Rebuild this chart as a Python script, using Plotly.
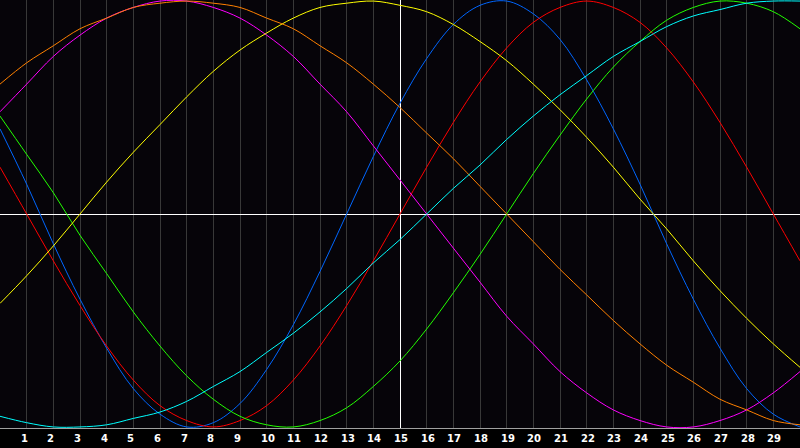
import plotly.graph_objects as go

# days shown on the chart (0 = left edge, 30 = right edge), today = 15
days = list(range(0, 31))
tick_days = list(range(1, 30))
tick_labels = [str(d) for d in tick_days]
today = 15

# cycle values in percent, read at each day gridline
physical = [40, 14, -14, -40, -63, -82, -94, -100, -98, -89, -73, -52, -27, 0, 27, 52,
            73, 89, 98, 100, 94, 82, 63, 40, 14, -14, -40, -63, -82, -94, -100]
emotional = [22, 0, -22, -43, -62, -78, -90, -97, -100, -97, -90, -78, -62, -43, -22, 0,
             22, 43, 62, 78, 90, 97, 100, 97, 90, 78, 62, 43, 22, 0, -22]
intellectual = [46, 28, 10, -10, -28, -46, -62, -76, -87, -95, -99, -100, -97, -91, -81, -69,
                -54, -37, -19, 0, 19, 37, 54, 69, 81, 91, 97, 100, 99, 95, 87]
intuitive = [48, 61, 74, 84, 92, 97, 100, 100, 97, 92, 84, 74, 61, 48, 32, 16,
             0, -16, -32, -48, -61, -74, -84, -92, -97, -100, -100, -97, -92, -84, -74]
aesthetic = [-42, -29, -15, 0, 15, 29, 42, 55, 67, 77, 85, 92, 97, 99, 100, 98,
             95, 89, 81, 72, 61, 49, 36, 22, 7, -7, -22, -36, -49, -61, -72]
awareness = [61, 71, 79, 87, 92, 97, 99, 100, 99, 97, 92, 87, 79, 71, 61, 50,
             38, 26, 13, 0, -13, -26, -38, -50, -61, -71, -79, -87, -92, -97, -99]
spiritual = [-95, -98, -100, -100, -99, -96, -93, -88, -81, -74, -65, -56, -46, -35, -23, -12,
             0, 12, 23, 35, 46, 56, 65, 74, 81, 88, 93, 96, 99, 100, 100]

series = [
    ("Physical", physical, "#0066ff"),
    ("Emotional", emotional, "#ff0000"),
    ("Intellectual", intellectual, "#22ff00"),
    ("Intuitive", intuitive, "#ff00ff"),
    ("Aesthetic", aesthetic, "#ffff00"),
    ("Awareness", awareness, "#ff8000"),
    ("Spiritual", spiritual, "#00ffff"),
]

fig = go.Figure()

# dummy trace so the overlay axis (today marker grid) gets drawn
fig.add_trace(
    go.Scatter(x=[today], y=[0], xaxis="x2", mode="lines", showlegend=False,
               hoverinfo="skip")
)

for name, values, color in series:
    fig.add_trace(
        go.Scatter(
            x=days,
            y=values,
            mode="lines",
            name=name,
            line={"color": color, "width": 1, "shape": "spline", "smoothing": 1.0},
            showlegend=False,
            hoverinfo="skip",
        )
    )

for d, label in zip(tick_days, tick_labels):
    fig.add_annotation(
        x=d, y=0, xref="x", yref="paper", text=label, showarrow=False,
        xanchor="left", yanchor="top", xshift=-8, yshift=-3,
        font={"family": "DejaVu Sans", "size": 10, "color": "#ffffff", "weight": "bold"},
    )

fig.update_layout(
    width=800,
    height=448,
    margin={"l": 0, "r": 0, "t": 0, "b": 20},
    paper_bgcolor="#000000",
    plot_bgcolor="#060409",
    xaxis={
        "range": [0, 30],
        "tickvals": [d for d in tick_days if d != today],
        "showgrid": True,
        "gridcolor": "#383838",
        "gridwidth": 1,
        "zeroline": False,
        "showticklabels": False,
        "showline": True,
        "linecolor": "#a0a0a0",
        "linewidth": 1,
        "mirror": True,
        "fixedrange": True,
    },
    xaxis2={
        "range": [0, 30],
        "overlaying": "x",
        "tickvals": [today],
        "showgrid": True,
        "gridcolor": "#ffffff",
        "gridwidth": 1,
        "zeroline": False,
        "showticklabels": False,
        "showline": False,
        "fixedrange": True,
    },
    yaxis={
        "range": [-100.5, 100.5],
        "showgrid": False,
        "zeroline": True,
        "zerolinecolor": "#ffffff",
        "zerolinewidth": 1,
        "showticklabels": False,
        "showline": True,
        "linecolor": "#a0a0a0",
        "linewidth": 1,
        "fixedrange": True,
    },
)

fig.write_html(
    "out.html",
    config={"displayModeBar": False},
    post_script="document.body.style.margin = '0';",
)
